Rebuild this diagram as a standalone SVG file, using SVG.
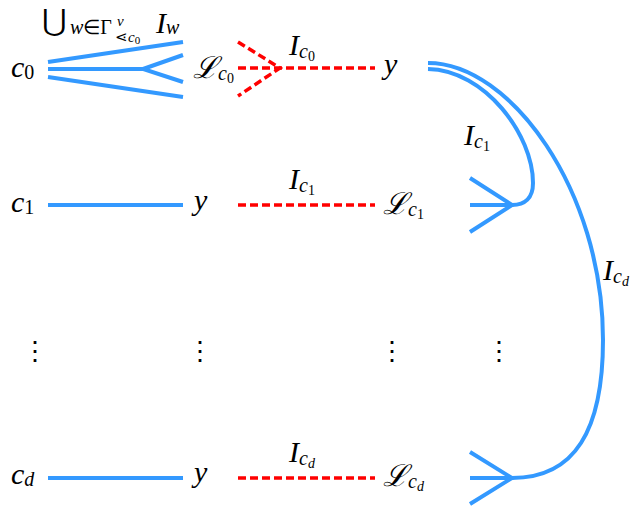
<svg xmlns="http://www.w3.org/2000/svg" width="634" height="508" viewBox="0 0 634 508">
<rect width="634" height="508" fill="#fff"/>
<g id="connectors" fill="none">
  <g stroke="#3399ff" stroke-width="4">
    <path d="M48,62 L183,42"/>
    <path d="M48,69 L143,69 M183,55 L143,69 L183,82"/>
    <path d="M48,77 L183,97"/>
    <path d="M48,205 L183,205"/>
    <path d="M48,478 L183,478"/>
    <path d="M428,69 C485,70 533,135 533,183 C533,198 525,205 512,205"/>
    <path d="M470,178 L512,205 L470,232 M470,205 L512,205"/>
    <path d="M428,63 C510,63 603,190 603,340 C603,430 575,478 512,478"/>
    <path d="M470,452 L512,478 L470,504 M470,478 L512,478"/>
  </g>
  <g stroke="#ff0000" stroke-width="3.5" stroke-dasharray="8 4">
    <path d="M238,68 L375,68"/>
    <path d="M238,42 L280,68 L238,96"/>
    <path d="M238,205 L375,205"/>
    <path d="M238,478 L375,478"/>
  </g>
</g>
<g id="label-union">
  <text font-family="Liberation Serif, serif" font-size="30" x="42" y="31">⋃</text>
  <text font-family="Liberation Serif, serif" font-style="italic" font-size="20" x="70" y="34">w<tspan font-style="normal">∈Γ</tspan></text>
  <text font-family="Liberation Serif, serif" font-style="italic" font-size="15" x="117" y="26">v</text>
  <text font-family="Liberation Serif, serif" font-style="italic" font-size="15" x="115" y="42"><tspan font-style="normal">⋖</tspan>c<tspan font-style="normal" font-size="11" dy="2">0</tspan></text>
  <text font-family="Liberation Serif, serif" font-style="italic" font-size="30" x="156" y="33">I<tspan font-size="20" dy="1">w</tspan></text>
</g>
<g id="c0"><text font-family="Liberation Serif, serif" font-style="italic" font-size="30" x="11" y="77">c<tspan font-style="normal" font-size="20" dy="2">0</tspan></text></g>
<g id="L0"><text font-family="Liberation Serif, serif" font-style="italic" font-size="30" x="193" y="78">ℒ<tspan font-size="20" dy="2">c</tspan><tspan font-style="normal" font-size="14" dy="3">0</tspan></text></g>
<g id="Ic0"><text font-family="Liberation Serif, serif" font-style="italic" font-size="30" x="289" y="55">I<tspan font-size="20" dy="3">c</tspan><tspan font-style="normal" font-size="14" dy="3">0</tspan></text></g>
<g id="y0"><text font-family="Liberation Serif, serif" font-style="italic" font-size="30" x="384" y="74">y</text></g>
<g id="Ic1a"><text font-family="Liberation Serif, serif" font-style="italic" font-size="30" x="464" y="145">I<tspan font-size="20" dy="3">c</tspan><tspan font-style="normal" font-size="14" dy="3">1</tspan></text></g>
<g id="c1"><text font-family="Liberation Serif, serif" font-style="italic" font-size="30" x="11" y="212">c<tspan font-style="normal" font-size="20" dy="2">1</tspan></text></g>
<g id="y1"><text font-family="Liberation Serif, serif" font-style="italic" font-size="30" x="194" y="210">y</text></g>
<g id="Ic1"><text font-family="Liberation Serif, serif" font-style="italic" font-size="30" x="289" y="189">I<tspan font-size="20" dy="3">c</tspan><tspan font-style="normal" font-size="14" dy="3">1</tspan></text></g>
<g id="L1"><text font-family="Liberation Serif, serif" font-style="italic" font-size="30" x="383" y="214">ℒ<tspan font-size="20" dy="2">c</tspan><tspan font-style="normal" font-size="14" dy="3">1</tspan></text></g>
<g id="Icd"><text font-family="Liberation Serif, serif" font-style="italic" font-size="30" x="603" y="280">I<tspan font-size="20" dy="3">c</tspan><tspan font-size="14" dy="3">d</tspan></text></g>
<g id="cd"><text font-family="Liberation Serif, serif" font-style="italic" font-size="30" x="11" y="484">c<tspan font-size="20" dy="2">d</tspan></text></g>
<g id="yd"><text font-family="Liberation Serif, serif" font-style="italic" font-size="30" x="194" y="482">y</text></g>
<g id="Icd2"><text font-family="Liberation Serif, serif" font-style="italic" font-size="30" x="289" y="462">I<tspan font-size="20" dy="3">c</tspan><tspan font-size="14" dy="3">d</tspan></text></g>
<g id="Ld"><text font-family="Liberation Serif, serif" font-style="italic" font-size="30" x="383" y="486">ℒ<tspan font-size="20" dy="2">c</tspan><tspan font-size="14" dy="3">d</tspan></text></g>
<g id="dots">
  <text font-family="DejaVu Serif, serif" font-size="26" x="22" y="360">⋮</text>
  <text font-family="DejaVu Serif, serif" font-size="26" x="187" y="360">⋮</text>
  <text font-family="DejaVu Serif, serif" font-size="26" x="379" y="360">⋮</text>
  <text font-family="DejaVu Serif, serif" font-size="26" x="486" y="360">⋮</text>
</g>
</svg>
